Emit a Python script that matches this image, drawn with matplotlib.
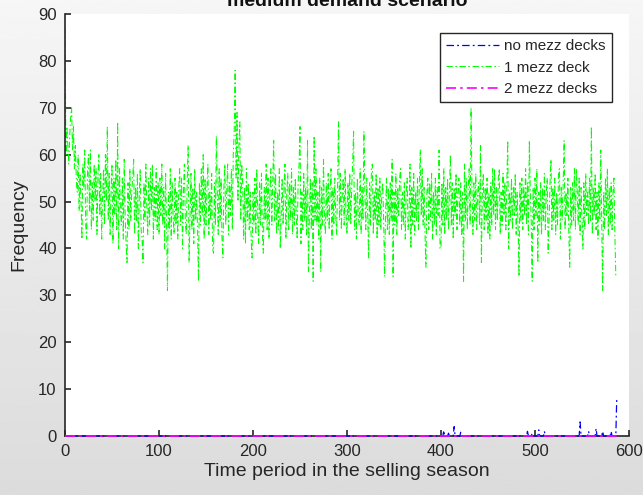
import numpy as np
import matplotlib
matplotlib.use('Agg')
import matplotlib.pyplot as plt

plt.rcParams['font.family'] = ['Liberation Sans', 'DejaVu Sans']

# 1 mezz deck series (one value per time period, 0..587)
one_deck = [
    87, 60, 66, 62, 58, 64, 68, 70, 61, 66, 57, 62, 55, 52, 60, 48, 56, 50, 42, 58,
    53, 61, 45, 42, 57, 60, 48, 61, 44, 54, 46, 58, 50, 57, 43, 55, 60, 47, 56, 42,
    51, 57, 45, 60, 50, 66, 46, 56, 43, 52, 58, 41, 55, 47, 59, 44, 67, 40, 57, 48,
    45, 55, 42, 59, 47, 41, 37, 54, 44, 57, 46, 52, 55, 59, 43, 53, 46, 56, 40, 51,
    57, 44, 42, 37, 54, 46, 58, 49, 43, 55, 45, 57, 48, 58, 42, 53, 46, 57, 44, 54,
    43, 55, 47, 58, 45, 53, 40, 56, 46, 31, 52, 44, 57, 42, 54, 47, 43, 55, 45, 52,
    42, 53, 57, 45, 55, 40, 52, 58, 46, 43, 54, 62, 37, 47, 56, 44, 53, 41, 57, 46,
    52, 44, 33, 54, 45, 57, 47, 60, 42, 55, 45, 53, 58, 43, 52, 46, 56, 40, 39, 54,
    45, 64, 52, 43, 57, 46, 55, 42, 38, 53, 58, 45, 52, 58, 43, 54, 47, 57, 44, 60,
    65, 78, 55, 69, 50, 62, 67, 46, 58, 54, 42, 53, 41, 57, 46, 54, 44, 52, 42, 38,
    52, 45, 55, 43, 57, 47, 41, 54, 45, 56, 43, 39, 53, 46, 58, 44, 55, 42, 52, 57,
    45, 54, 63, 46, 56, 43, 52, 44, 57, 40, 47, 55, 45, 53, 58, 42, 52, 56, 44, 54,
    46, 57, 43, 53, 45, 55, 47, 42, 54, 58, 66, 41, 52, 44, 56, 46, 53, 43, 63, 35,
    47, 55, 44, 54, 33, 64, 46, 57, 45, 52, 42, 55, 35, 53, 45, 59, 47, 43, 54, 46,
    56, 44, 52, 57, 42, 53, 45, 55, 47, 43, 54, 67, 46, 56, 44, 52, 55, 45, 57, 47,
    43, 54, 46, 56, 45, 53, 58, 65, 44, 52, 42, 55, 47, 45, 57, 43, 53, 46, 65, 52,
    44, 55, 47, 38, 54, 45, 57, 58, 43, 52, 46, 56, 42, 53, 45, 55, 44, 52, 54, 46,
    34, 47, 55, 44, 53, 43, 54, 46, 59, 34, 52, 45, 56, 43, 53, 47, 55, 57, 44, 52,
    45, 54, 42, 52, 55, 44, 47, 58, 40, 53, 45, 56, 43, 52, 46, 55, 44, 54, 61, 47,
    57, 45, 53, 43, 36, 52, 55, 44, 54, 46, 56, 42, 52, 45, 55, 43, 53, 47, 61, 40,
    40, 54, 45, 57, 43, 53, 46, 55, 44, 52, 60, 45, 54, 42, 53, 47, 56, 44, 52, 55,
    45, 54, 43, 52, 33, 58, 46, 55, 44, 53, 57, 45, 70, 52, 43, 54, 46, 56, 44, 52,
    54, 45, 62, 37, 52, 56, 44, 53, 46, 55, 43, 52, 42, 54, 45, 57, 47, 57, 44, 53,
    46, 55, 57, 43, 52, 45, 56, 47, 54, 44, 53, 63, 40, 52, 46, 55, 44, 53, 47, 56,
    43, 52, 45, 34, 54, 46, 55, 44, 53, 47, 57, 45, 54, 43, 63, 52, 46, 33, 53, 44,
    55, 47, 57, 37, 52, 45, 54, 43, 53, 46, 56, 44, 52, 55, 39, 46, 54, 59, 44, 53,
    46, 55, 43, 52, 45, 56, 57, 42, 53, 46, 54, 63, 44, 52, 47, 55, 43, 36, 53, 45,
    54, 46, 57, 44, 57, 52, 45, 55, 43, 53, 46, 40, 54, 44, 56, 47, 52, 45, 55, 46,
    66, 43, 53, 47, 56, 44, 52, 42, 54, 46, 61, 45, 31, 52, 44, 55, 47, 57, 43, 53,
    45, 54, 44, 52, 55, 43, 34, 34,
]

# no mezz decks: zero except these periods
no_deck_periods = [403, 408, 414, 421, 492, 497, 504, 510, 548, 557, 565, 572, 581, 587]
no_deck_values = [1.2, 0.6, 2.0, 0.8, 1.0, 0.6, 1.3, 1.0, 3.0, 1.0, 1.6, 1.0, 1.0, 8.3]

labels = ['no mezz decks', '1 mezz deck', '2 mezz decks']
title = 'medium demand scenario'

t = np.arange(len(one_deck))
no_deck = np.zeros(len(t))
no_deck[no_deck_periods] = no_deck_values
two_decks = np.zeros(len(t))

fig = plt.figure(figsize=(6.43, 4.95), dpi=100)

# grey gradient behind everything, like the MATLAB window
bg = fig.add_axes([0, 0, 1, 1], zorder=-10)
grad = np.linspace(0.965, 0.86, 256).reshape(-1, 1)
bg.imshow(grad, cmap='gray', vmin=0, vmax=1, aspect='auto', extent=[0, 1, 0, 1])
bg.axis('off')

ax = fig.add_axes([0.1011, 0.1192, 0.8771, 0.8525])
ax.set_facecolor('white')

dd = (0, (6, 2.5, 1.5, 2.5))
ax.plot(t, no_deck, color='#0000ff', lw=0.9, linestyle=dd, label=labels[0], zorder=3, clip_on=False)
ax.plot(t, one_deck, color='#00ff00', lw=0.75, linestyle=dd, label=labels[1], zorder=2)
ax.plot(t, two_decks, color='#ff00ff', lw=1.2, linestyle=dd, label=labels[2], zorder=4, clip_on=False)

ax.set_xlim(0, 600)
ax.set_ylim(0, 90)
ax.set_xticks(range(0, 601, 100))
ax.set_yticks(range(0, 91, 10))

for s in ['top', 'right']:
    ax.spines[s].set_visible(False)
for s in ['left', 'bottom']:
    ax.spines[s].set_color('#262626')
    ax.spines[s].set_linewidth(1.2)
ax.tick_params(direction='in', length=4, width=1.2, color='#262626',
               labelsize=12, labelcolor='#262626', pad=6)

ax.set_xlabel('Time period in the selling season', fontsize=14, color='#262626', labelpad=3)
ax.set_ylabel('Frequency', fontsize=14, color='#262626', labelpad=8)

# title is cut by the top edge in the original figure as well
fig.text(0.5397, 0.988, title, ha='center', va='baseline', fontsize=14,
         fontweight='bold', color='#111111')

leg = ax.legend(loc='upper right', bbox_to_anchor=(0.970, 0.955), borderaxespad=0,
                fontsize=11, handlelength=3.5, handletextpad=0.35, fancybox=False,
                framealpha=1, edgecolor='#262626')
leg.get_frame().set_linewidth(1.0)
for txt in leg.get_texts():
    txt.set_color('#262626')

fig.savefig('out.png', dpi=100)
